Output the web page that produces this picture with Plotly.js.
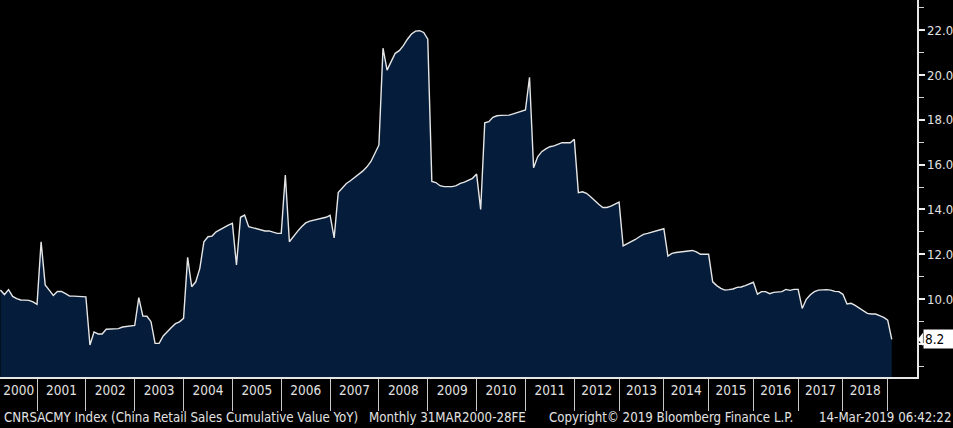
<!DOCTYPE html>
<html><head><meta charset="utf-8">
<script src="https://cdn.plot.ly/plotly-3.0.1.min.js"></script>
<style>html,body{margin:0;padding:0;background:#000;overflow:hidden}#chart{width:953px;height:428px}</style>
</head><body><div id="chart"></div>
<script>
// Year labels (one array of observations per year; Jan is absent from 2012 on)
const years = ['2000','2001','2002','2003','2004','2005','2006','2007','2008','2009',
               '2010','2011','2012','2013','2014','2015','2016','2017','2018','2019'];
const v2000 = [10.4, 10.2, 10.42, 10.12, 10.02, 9.96, 9.95, 9.94, 9.87, 9.76];
const v2001 = [12.56, 10.63, 10.40, 10.16, 10.34, 10.34, 10.24, 10.13, 10.13, 10.13, 10.13, 10.1];
const v2002 = [7.95, 8.53, 8.44, 8.44, 8.65, 8.65, 8.65, 8.68, 8.75, 8.77, 8.82, 8.82];
const v2003 = [10.06, 9.24, 9.23, 8.99, 8.02, 8.02, 8.35, 8.56, 8.73, 8.9, 8.98, 9.14];
const v2004 = [11.86, 10.55, 10.77, 11.37, 12.56, 12.78, 12.81, 13.0, 13.11, 13.2, 13.3, 13.38];
const v2005 = [11.52, 13.65, 13.75, 13.23, 13.18, 13.15, 13.08, 13.04, 13.04, 13.0, 12.93, 12.93];
const v2006 = [15.54, 12.56, 12.81, 13.02, 13.23, 13.4, 13.48, 13.52, 13.55, 13.6, 13.65, 13.74];
const v2007 = [12.73, 14.75, 14.96, 15.16, 15.28, 15.42, 15.57, 15.71, 15.89, 16.13, 16.5, 16.88];
const v2008 = [21.2, 20.22, 20.6, 20.97, 21.09, 21.31, 21.6, 21.83, 21.96, 21.98, 21.9, 21.6];
const v2009 = [15.25, 15.2, 15.06, 15.02, 15.02, 15.02, 15.06, 15.16, 15.22, 15.31, 15.39, 15.58];
const v2010 = [14.0, 17.87, 17.92, 18.11, 18.18, 18.2, 18.21, 18.21, 18.27, 18.32, 18.39, 18.44];
const v2011 = [19.9, 15.86, 16.35, 16.58, 16.7, 16.8, 16.84, 16.9, 16.98, 16.98, 16.98, 17.13];
const v2012 = [14.75, 14.79, 14.72, 14.57, 14.39, 14.23, 14.09, 14.09, 14.15, 14.24, 14.33];
const v2013 = [12.37, 12.46, 12.56, 12.66, 12.78, 12.89, 12.93, 12.98, 13.05, 13.11, 13.14];
const v2014 = [11.92, 12.04, 12.08, 12.11, 12.11, 12.16, 12.17, 12.11, 12.0, 12.0, 12.0];
const v2015 = [10.77, 10.6, 10.48, 10.4, 10.42, 10.45, 10.52, 10.54, 10.6, 10.67, 10.75];
const v2016 = [10.22, 10.33, 10.33, 10.24, 10.3, 10.33, 10.33, 10.43, 10.39, 10.43, 10.43];
const v2017 = [9.58, 9.99, 10.19, 10.33, 10.4, 10.42, 10.42, 10.4, 10.34, 10.33, 10.21];
const v2018 = [9.78, 9.81, 9.72, 9.6, 9.51, 9.36, 9.33, 9.33, 9.26, 9.18, 9.06];
const v2019 = [8.2];
const valuesByYear = [v2000,v2001,v2002,v2003,v2004,v2005,v2006,v2007,v2008,v2009,
                      v2010,v2011,v2012,v2013,v2014,v2015,v2016,v2017,v2018,v2019];

const FONT = 'DejaVu Sans Condensed, DejaVu Sans, sans-serif';
const TXT = '#e2e2e2';

const xs = [], ys = [], sepVals = [], labVals = [], labText = [];
let idx = 0, prevSep = 0;
valuesByYear.forEach((arr, k) => {
  arr.forEach(v => { xs.push(idx); ys.push(v); idx++; });
  const last = idx - 1;
  if (arr.length >= 3) { labVals.push((prevSep + last) / 2); labText.push(years[k]); }
  if (k < valuesByYear.length - 1) sepVals.push(last);
  prevSep = last;
});
const lastVal = ys[ys.length - 1];

const trace = {
  x: xs, y: ys, type: 'scatter', mode: 'lines',
  line: {color: '#e6e6e6', width: 1.4},
  fill: 'tozeroy', fillcolor: '#051d3a',
  hoverinfo: 'skip'
};

const layout = {
  width: 953, height: 428,
  margin: {l: 0, r: 36, t: 0, b: 51},
  paper_bgcolor: '#000', plot_bgcolor: '#000',
  showlegend: false,
  xaxis: {
    range: [-0.1, 225.2], showgrid: false, zeroline: false,
    showline: true, linecolor: '#e6e6e6', linewidth: 1.5,
    tickmode: 'array', tickvals: labVals, ticktext: labText, ticks: '',
    tickfont: {family: FONT, size: 13.5, color: TXT},
    minor: {tickmode: 'array', tickvals: sepVals, ticks: 'outside', ticklen: 32,
            tickwidth: 1, tickcolor: '#c8c8c8', showgrid: false},
    fixedrange: true
  },
  yaxis: {
    side: 'right', range: [6.52, 23.35], showgrid: false, zeroline: false,
    showline: true, linecolor: '#e6e6e6', linewidth: 1.5,
    tickmode: 'linear', tick0: 0, dtick: 2, tickformat: '.1f',
    ticks: 'outside', ticklen: 6, tickwidth: 2, tickcolor: '#f0f0f0',
    tickfont: {family: FONT, size: 13, color: TXT},
    minor: {dtick: 1, ticks: 'outside', ticklen: 5, tickwidth: 1, tickcolor: '#d0d0d0', showgrid: false},
    fixedrange: true
  },
  shapes: [{
    type: 'path', xref: 'paper', yref: 'y', layer: 'above',
    path: `M 1.001,${lastVal} L 1.0065,${lastVal + 0.3} L 1.0065,${lastVal - 0.3} Z`,
    fillcolor: '#ffffff', line: {width: 0}
  }],
  annotations: [
    {xref: 'paper', yref: 'y', x: 1.0065, y: lastVal, xanchor: 'left', yanchor: 'middle',
     text: lastVal.toFixed(1), showarrow: false, bgcolor: '#ffffff', borderpad: 1,
     width: 36, align: 'left', font: {family: FONT, size: 13.5, color: '#000'}},
    {xref: 'paper', yref: 'paper', x: 2/917, y: -0.107, xanchor: 'left', yanchor: 'middle',
     text: 'CNRSACMY Index (China Retail Sales Cumulative Value YoY)', showarrow: false,
     font: {family: FONT, size: 13.2, color: TXT}},
    {xref: 'paper', yref: 'paper', x: 367/917, y: -0.107, xanchor: 'left', yanchor: 'middle',
     text: 'Monthly 31MAR2000-28FE', showarrow: false,
     font: {family: FONT, size: 13.2, color: TXT}},
    {xref: 'paper', yref: 'paper', x: 547/917, y: -0.107, xanchor: 'left', yanchor: 'middle',
     text: 'Copyright© 2019 Bloomberg Finance L.P.', showarrow: false,
     font: {family: FONT, size: 13.2, color: TXT}},
    {xref: 'paper', yref: 'paper', x: 953/917, y: -0.107, xanchor: 'right', yanchor: 'middle',
     text: '14-Mar-2019 06:42:22', showarrow: false,
     font: {family: FONT, size: 13.2, color: TXT}}
  ]
};

Plotly.newPlot('chart', [trace], layout, {displayModeBar: false, staticPlot: true});
</script>
</body></html>
